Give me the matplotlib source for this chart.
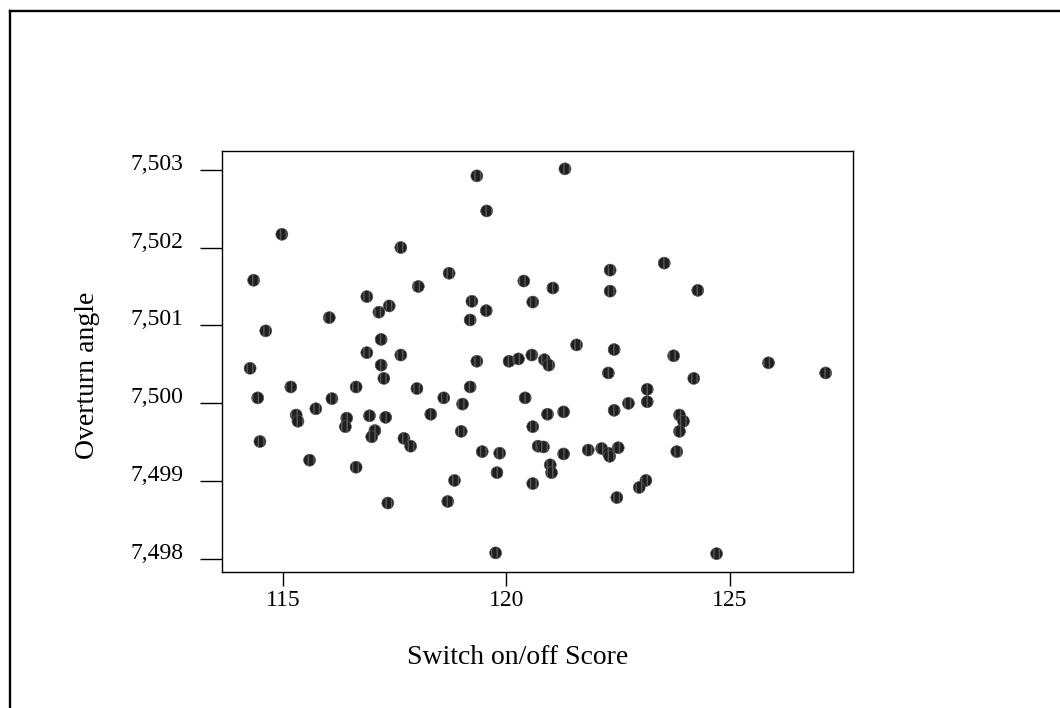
import matplotlib
matplotlib.use("Agg")
import matplotlib.pyplot as plt
from matplotlib.lines import Line2D
from matplotlib.ticker import FixedLocator, FuncFormatter

plt.rcParams['font.family'] = ['Liberation Serif', 'DejaVu Serif']

# Switch on/off score (x) and overturn angle (y)
score = [119.34, 119.56, 114.98, 117.64, 114.35, 118.72, 118.03, 120.39, 116.88, 117.38,
         117.15, 119.23, 119.55, 120.59, 116.04, 119.19, 114.62, 117.20, 116.88, 117.64,
         119.34, 120.06, 120.27, 120.57, 114.27, 117.20, 117.26, 115.18, 116.64, 118.00,
         119.19, 114.44, 116.10, 118.60, 119.02, 120.42, 115.74, 115.30, 115.34, 116.43,
         116.40, 116.94, 117.30, 118.31, 117.06, 116.99, 117.71, 117.86, 118.99, 120.59,
         114.49, 119.46, 119.85, 119.79, 115.60, 116.64, 118.84, 120.59, 117.35, 118.69,
         119.76, 121.31, 123.53, 122.32, 122.32, 124.28, 121.04, 121.57, 122.41, 123.74,
         125.86, 120.85, 120.95, 122.28, 127.14, 124.19, 123.15, 123.15, 122.73, 122.41,
         121.28, 120.92, 123.87, 123.96, 123.87, 120.71, 120.83, 121.28, 121.83, 122.13,
         122.28, 122.31, 122.50, 123.81, 120.98, 121.01, 123.12, 122.97, 122.47, 124.70]

angle = [7.50292, 7.50247, 7.50217, 7.50200, 7.50158, 7.50167, 7.50150, 7.50157, 7.50137, 7.50125,
         7.50117, 7.50131, 7.50119, 7.50130, 7.50110, 7.50107, 7.50093, 7.50082, 7.50065, 7.50062,
         7.50054, 7.50054, 7.50057, 7.50062, 7.50045, 7.50049, 7.50032, 7.50021, 7.50021, 7.50019,
         7.50021, 7.50007, 7.50006, 7.50007, 7.49999, 7.50007, 7.49993, 7.49985, 7.49977, 7.49981,
         7.49970, 7.49984, 7.49982, 7.49986, 7.49965, 7.49957, 7.49955, 7.49945, 7.49964, 7.49970,
         7.49951, 7.49938, 7.49936, 7.49911, 7.49927, 7.49918, 7.49901, 7.49897, 7.49872, 7.49874,
         7.49808, 7.50301, 7.50180, 7.50171, 7.50144, 7.50145, 7.50148, 7.50075, 7.50069, 7.50061,
         7.50052, 7.50056, 7.50049, 7.50039, 7.50039, 7.50032, 7.50018, 7.50002, 7.50000, 7.49991,
         7.49989, 7.49986, 7.49985, 7.49977, 7.49964, 7.49945, 7.49944, 7.49935, 7.49940, 7.49942,
         7.49936, 7.49932, 7.49943, 7.49938, 7.49921, 7.49911, 7.49901, 7.49892, 7.49879, 7.49807]

xticks = [115, 120, 125]
yticks = [7.498, 7.499, 7.500, 7.501, 7.502, 7.503]

fig = plt.figure(figsize=(10.6, 7.08), dpi=100)
ax = fig.add_axes([0.2092, 0.1917, 0.5955, 0.595])

ax.scatter(score, angle, s=75, facecolor='#1f1f1f', edgecolor='#5a5a5a',
           linewidth=0.4, hatch='|||', zorder=3)

ax.set_xlim(113.636, 127.75)
ax.set_ylim(7.497831, 7.503239)

ax.xaxis.set_major_locator(FixedLocator(xticks))
ax.yaxis.set_major_locator(FixedLocator(yticks))
ax.yaxis.set_major_formatter(FuncFormatter(lambda v, p: f"{v:.3f}".replace('.', ',')))

ax.tick_params(axis='x', direction='out', length=10, width=1, pad=3, labelsize=17)
ax.tick_params(axis='y', direction='out', length=15.6, width=1, pad=12, labelsize=17)
for lab in ax.get_yticklabels():
    lab.set_verticalalignment('baseline')

for sp in ax.spines.values():
    sp.set_linewidth(1.0)
    sp.set_color('black')

fig.text(517.5 / 1060, 1 - 664 / 708, 'Switch on/off Score', ha='center', va='baseline', fontsize=20)
fig.text(88 / 1060, 1 - 375 / 708, 'Overturn angle', rotation=90, ha='center', va='center', fontsize=20)

# border lines of the original figure (left and top only)
fig.add_artist(Line2D([10 / 1060, 10 / 1060], [0, 1 - 11 / 708], transform=fig.transFigure,
                      color='black', lw=1.7))
fig.add_artist(Line2D([10 / 1060, 1], [1 - 11 / 708, 1 - 11 / 708], transform=fig.transFigure,
                      color='black', lw=1.7))

fig.savefig('out.png', dpi=100)
